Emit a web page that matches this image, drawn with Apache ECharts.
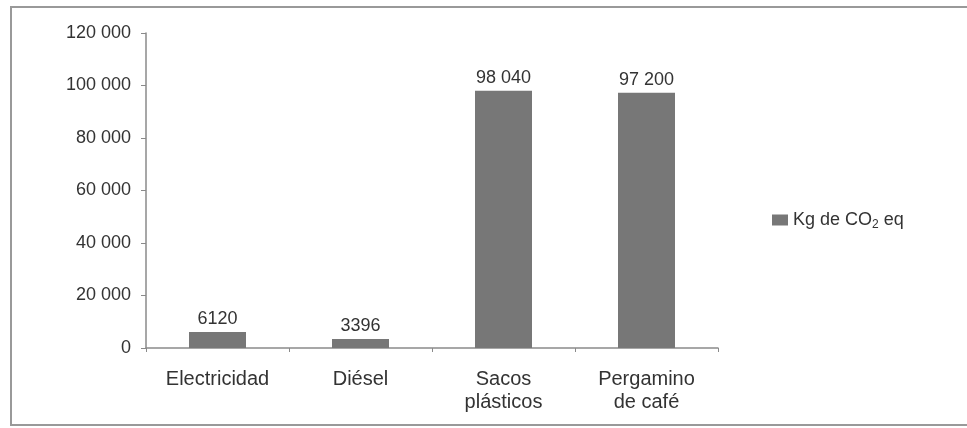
<!DOCTYPE html>
<html lang="es">
<head>
    <meta charset="UTF-8">
    <style>
        html, body {
            margin: 0;
            padding: 0;
            background: #fff;
        }
        /* marco gris alrededor del gráfico */
        #frame {
            position: absolute;
            left: 10px;
            top: 6px;
            width: 967px;
            height: 420px;
            border-left: 2px solid #999;
            border-top: 2px solid #999;
            border-bottom: 2px solid #999;
            box-sizing: border-box;
        }
        #chart {
            position: absolute;
            left: 0;
            top: 0;
            width: 967px;
            height: 428px;
        }
    </style>
    <script src="https://cdn.jsdelivr.net/npm/echarts@6/dist/echarts.min.js"></script>
</head>
<body>
    <div id="frame"></div>
    <div id="chart"></div>
    <script>
        // datos
        var categorias = ['Electricidad', 'Diésel', 'Sacos\nplásticos', 'Pergamino\nde café'];
        var valores = [6120, 3396, 98040, 97200];
        var nombreSerie = 'Kg de CO2 eq';

        // separador de miles con espacio (solo a partir de 5 cifras)
        function formato(v) {
            if (v < 10000) return String(v);
            return String(v).replace(/\B(?=(\d{3})+(?!\d))/g, ' ');
        }

        var fuente = 'Liberation Sans, Arial, sans-serif';
        var chart = echarts.init(document.getElementById('chart'));

        var option = {
            animation: false,
            textStyle: {
                fontFamily: fuente
            },
            grid: {
                left: 146,
                top: 33,
                right: 249,
                bottom: 80
            },
            legend: {
                left: 767,
                top: 206,
                itemWidth: 16,
                itemHeight: 11,
                itemGap: 10,
                icon: 'rect',
                data: [nombreSerie],
                formatter: function () {
                    return '{t|Kg de CO}{s|2}{t| eq}';
                },
                textStyle: {
                    rich: {
                        t: { fontSize: 18, color: '#333', fontFamily: fuente },
                        s: { fontSize: 12, color: '#333', padding: [10, 0, 0, 0], fontFamily: fuente }
                    }
                }
            },
            xAxis: {
                type: 'category',
                data: categorias,
                axisLine: { lineStyle: { color: '#8a8a8a', width: 1.5 } },
                axisTick: { show: true, length: 4, lineStyle: { color: '#8a8a8a' } },
                axisLabel: {
                    color: '#333',
                    fontSize: 20,
                    lineHeight: 23,
                    margin: 20,
                    interval: 0
                }
            },
            yAxis: {
                type: 'value',
                min: 0,
                max: 120000,
                interval: 20000,
                splitLine: { show: false },
                axisLine: { show: true, lineStyle: { color: '#8a8a8a', width: 1.5 } },
                axisTick: { show: true, length: 5, lineStyle: { color: '#8a8a8a' } },
                axisLabel: {
                    color: '#333',
                    fontSize: 18,
                    margin: 15,
                    formatter: formato
                }
            },
            series: [{
                name: nombreSerie,
                type: 'bar',
                data: valores,
                barWidth: 57,
                itemStyle: { color: '#777777' },
                label: {
                    show: true,
                    position: 'top',
                    distance: 4,
                    color: '#333',
                    fontSize: 18,
                    formatter: function (p) { return formato(p.value); }
                }
            }]
        };

        chart.setOption(option);
    </script>
</body>
</html>
